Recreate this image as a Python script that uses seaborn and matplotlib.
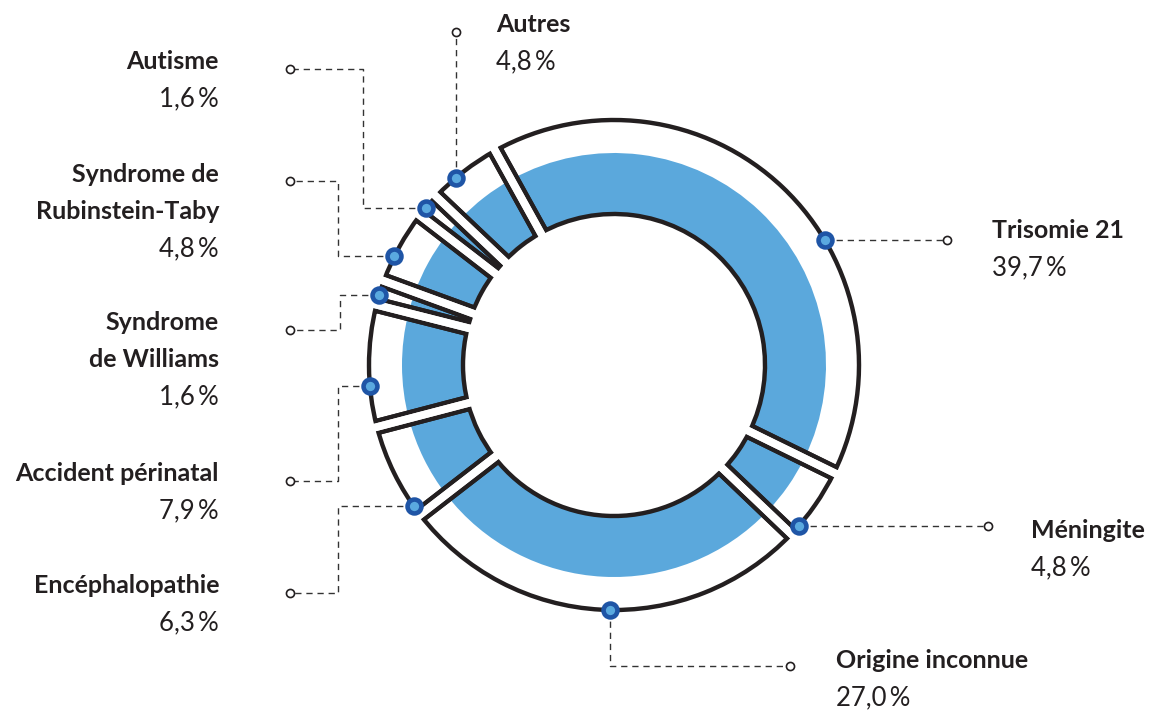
import numpy as np
import matplotlib
matplotlib.use("Agg")
import matplotlib.pyplot as plt
import seaborn as sns
from matplotlib.patches import Wedge

# ---------------- data ----------------
categories = ["Trisomie 21", "Méningite", "Origine inconnue", "Encéphalopathie",
              "Accident périnatal", "Syndrome\nde Williams", "Syndrome de\nRubinstein-Taby",
              "Autisme", "Autres"]
values = [39.7, 4.8, 27.0, 6.3, 7.9, 1.6, 4.8, 1.6, 4.8]
value_labels = ["39,7\u2009%", "4,8\u2009%", "27,0\u2009%", "6,3\u2009%", "7,9\u2009%",
                "1,6\u2009%", "4,8\u2009%", "1,6\u2009%", "4,8\u2009%"]

# ---------------- layout (pixels, y measured from the top) ----------------
W, H = 1152, 711
CX, CY = 614, 365
R_OUT, R_IN, R_BLUE = 251, 145, 212
GAP, LINE = 3.8, 4.4           # half gap and outline width, px
R_DOT = R_OUT - GAP - LINE / 2
START = 119
LINE_STEP = 37.3

# text x, ha, first baseline, route, circle x, circle y, elbow x, preferred dot angle
layout = [
    (992, "left", 238, "h", 947, None, None, 30.7),
    (1031, "left", 538, "h", 988, None, None, -44.8),
    (836, "left", 668, "vh", 790, 666, None, -90.9),
    (219, "right", 593, "hvh", 290, 593, 338, -141.3),
    (219, "right", 481, "hvh", 290, 481, 338, -175.0),
    (219, "right", 330, "hvh", 290, 330, 340, 165.9),
    (219, "right", 182, "hvh", 290, 181, 338, 153.7),
    (219, "right", 69, "hvh", 290, 69, 363, 141.8),
    (496, "left", 32, "v", None, 32, None, 130.1),
]

INK = "#231f20"
BLUE = "#5ba8dc"
DOT_EDGE = "#1f55a6"
DOT_FACE = "#5aa9df"
DASH = "#333333"

sns.set_theme(style="white")
plt.rcParams["font.family"] = ["Lato", "DejaVu Sans"]

fig = plt.figure(figsize=(W / 100, H / 100), dpi=100)
ax = fig.add_axes([0, 0, 1, 1])
PX = 72 / 100  # points per pixel


def Y(y):
    return H - y


center = (CX, Y(CY))
common = dict(center=center, startangle=START, counterclock=False)

# blue inner band
ax.pie(values, radius=R_BLUE, colors=[BLUE] * len(values),
       wedgeprops=dict(width=R_BLUE - R_IN, linewidth=0, edgecolor="none", zorder=1),
       **common)

clip = Wedge(center, R_OUT, 0, 360, width=R_OUT - R_IN, transform=ax.transData)

# thick dark stroke around every slice, kept inside the ring
outline, _ = ax.pie(values, radius=R_OUT,
                    wedgeprops=dict(width=R_OUT - R_IN, facecolor="none", edgecolor=INK,
                                    linewidth=2 * (GAP + LINE) * PX, joinstyle="miter",
                                    zorder=2),
                    **common)
for w in outline:
    w.set_clip_path(clip)
    w.set_clip_on(True)

# white stroke on top opens the gaps and leaves the dark outline
ax.pie(values, radius=R_OUT,
       wedgeprops=dict(width=R_OUT - R_IN, facecolor="none", edgecolor="white",
                       linewidth=2 * GAP * PX, joinstyle="miter", zorder=3),
       **common)

# wedge angles from the data
vals = np.asarray(values, dtype=float)
frac = np.concatenate([[0], np.cumsum(vals)]) / vals.sum()
t_start = START - 360 * frac[:-1]
t_end = START - 360 * frac[1:]

for i, (name, vlab) in enumerate(zip(categories, value_labels)):
    tx, ha, base, route, cx, cy, ex, pref = layout[i]
    ts, te = t_start[i], t_end[i]
    mid = (ts + te) / 2
    pref = pref + 360 * round((mid - pref) / 360)
    m = min(2.5, (ts - te) * 0.4)
    ang = np.radians(np.clip(pref, te + m, ts - m))
    xd = CX + R_DOT * np.cos(ang)
    yd = CY - R_DOT * np.sin(ang)
    if route == "h":
        pts = [(xd, yd), (cx, yd)]
    elif route == "vh":
        pts = [(xd, yd), (xd, cy), (cx, cy)]
    elif route == "hvh":
        pts = [(xd, yd), (ex, yd), (ex, cy), (cx, cy)]
    else:
        pts = [(xd, yd), (xd, cy)]
    px_, py_ = zip(*pts)
    ax.plot(px_, [Y(v) for v in py_], color=DASH, lw=1.0, linestyle=(0, (4.5, 3.5)),
            zorder=4, solid_capstyle="butt")
    ax.scatter([pts[-1][0]], [Y(pts[-1][1])], s=34, facecolor="white", edgecolor=INK,
               linewidth=1.2, zorder=5)
    ax.scatter([xd], [Y(yd)], s=100, facecolor=DOT_FACE, edgecolor=DOT_EDGE,
               linewidth=3.3, zorder=6)

    lines = name.split("\n")
    for k, ln in enumerate(lines):
        ax.text(tx, Y(base + k * LINE_STEP), ln, ha=ha, va="baseline", fontsize=18,
                fontweight="bold", color=INK, zorder=7)
    ax.text(tx, Y(base + len(lines) * LINE_STEP), vlab, ha=ha, va="baseline",
            fontsize=18.5, fontweight="normal", color=INK, zorder=7)

ax.set_xlim(0, W)
ax.set_ylim(0, H)
ax.set_aspect("auto")
ax.axis("off")
fig.savefig("out.png", dpi=100, facecolor="white")
